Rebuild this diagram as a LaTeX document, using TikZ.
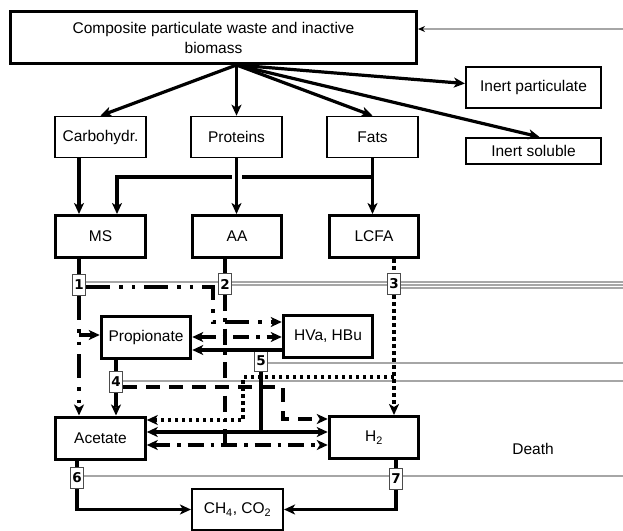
\documentclass[tikz,border=0pt]{standalone}
\usepackage{fontspec}
\setmainfont{Liberation Sans}
\newfontfamily\numfont{DejaVu Sans}
\usetikzlibrary{arrows.meta,positioning,calc,backgrounds}

\begin{document}
\begin{tikzpicture}[x=1pt, y=-1pt,
		font=\fontsize{15.5}{20}\selectfont,
		>={Stealth[length=11pt, width=10pt, inset=3pt]},
		block/.style={rectangle, draw, line width=3pt, minimum width=89.5pt, minimum height=42pt, inner sep=2pt, align=center},
		thinblock/.style={rectangle, draw, line width=1.6pt, minimum width=91.5pt, minimum height=41pt, inner sep=2pt, align=center},
		num/.style={rectangle, draw=black!70, fill=white, line width=1pt, minimum width=13.5pt, minimum height=21pt, inner sep=1pt, font=\numfont\bfseries\fontsize{13.5}{13.5}\selectfont},
		line/.style={draw, line width=3.2pt, ->},
		link/.style={draw, line width=3.2pt},
		death/.style={draw=black!35, line width=1.3pt},
		upsu/.style={line, dash pattern=on 24pt off 9pt on 3.5pt off 9pt on 3.5pt off 9pt},
		upaa/.style={line, dash pattern=on 16pt off 7pt on 3.5pt off 7pt},
		upfa/.style={line, line width=3.6pt, dash pattern=on 3.5pt off 3.5pt},
		uppro/.style={line, dash pattern=on 14pt off 9pt}]
		\useasboundingbox (0,0) rectangle (623,530);

		% Nodes
		\node [block, minimum width=406pt, minimum height=52pt] (comp) at (213.5,37.5) {Composite particulate waste and inactive\\biomass};
		\node [thinblock] (carb) at (100.5,137) {Carbohydr.};
		\node [thinblock] (prot) at (236.5,137) {Proteins};
		\node [thinblock] (fats) at (372.5,137) {Fats};
		\node [thinblock, minimum width=135.5pt] (xi) at (533.5,87.5) {Inert particulate};
		\node [thinblock, minimum width=135.5pt, minimum height=26.5pt] (si) at (533.5,151) {Inert soluble};
		\node [block] (ms) at (100.5,236.5) {MS};
		\node [block] (aa) at (237,236.5) {AA};
		\node [block] (lcfa) at (374,236.5) {LCFA};
		\node [block] (pro) at (146,337.5) {Propionate};
		\node [block] (vb) at (328,336.5) {HVa, HBu};
		\node [block] (ac) at (100.5,438) {Acetate};
		\node [block] (htwo) at (374,437.5) {H\textsubscript{2}};
		\node [thinblock] (ch) at (237.5,509.5) {CH\textsubscript{4}, CO\textsubscript{2}};
		\node (death) at (533,449) {Death};

		% Process numbers
		\node [num] (n1) at (79,285) {1};
		\node [num] (n2) at (225,284) {2};
		\node [num] (n3) at (394,284) {3};
		\node [num] (n4) at (116,382) {4};
		\node [num] (n5) at (261,360.5) {5};
		\node [num] (n6) at (77,478) {6};
		\node [num] (n7) at (396,479) {7};

		% Disintegration and hydrolysis
		\coordinate (apex) at (prot.north |- comp.south);
		\path [line] (apex) -- (carb.north);
		\path [line] (apex) -- (prot.north);
		\path [line] (apex) -- (fats.north);
		\path [line] (apex) -- ([yshift=4pt]xi.west);
		\path [line] (apex) -- ([xshift=6pt]si.north);
		\path [line] (carb.south -| n1) -- (ms.north -| n1);
		\path [line] (fats |- 0,177) -| ([xshift=16.5pt]ms.north);
		\path [line] (fats.south) -- (fats.south |- lcfa.north);
		\draw [white, line width=10pt] ($(prot.south)+(0,14)$) -- ($(prot.south)+(0,24)$);
		\path [line] (prot.south) -- (prot.south |- aa.north);

		% Uptake paths
		\path [link] (ms.south -| n1) -- (n1.north);
		\path [upsu] ([yshift=-2pt]n1.east) -| (213,322) -- (vb.west |- 0,322);
		\path [upsu] (n1.south) -- (ac.north -| n1);
		\path [upsu] (n1 |- 0,335) -- (pro.west |- 0,335);

		\path [link] (aa.south -| n2) -- (n2.north);
		\path [upaa, -] (n2.south) -- (n2 |- 0,445);
		\path [upaa, <->] (pro.east |- 0,337) -- (vb.west |- 0,337);
		\path [upaa, <->] (ac.east |- 0,445) -- (htwo.west |- 0,445);

		\path [upfa, -] (lcfa.south -| n3) -- (n3.north);
		\path [upfa] (n3.south) -- (htwo.north -| n3);
		\path [upfa] (n3 |- 0,377) -| (243,420) -- (ac.east |- 0,420);

		\path [link] (pro.south -| n4) -- (n4.north);
		\path [uppro] (n4.south) -- (ac.north -| n4);
		\path [uppro] ([yshift=-5pt]n4.east) -| (283,419) -- (htwo.west |- 0,419);

		\path [line] (vb.west |- 0,350) -- (pro.east |- 0,350);
		\path [link] (n5.south) -- (n5 |- 0,432);
		\path [line, <->] (ac.east |- 0,432) -- (htwo.west |- 0,432);

		\path [link] (ac.south -| n6) -- (n6.north);
		\path [line] (n6.south) |- (ch.west);
		\path [link] (htwo.south -| n7) -- (n7.north);
		\path [line] (n7.south) |- (ch.east);

		% Death lines
		\begin{scope}[on background layer]
			\coordinate (d0) at (623,29);
			\coordinate (d1) at (623,282);
			\coordinate (d2) at (623,285);
			\coordinate (d3) at (623,288);
			\coordinate (d5) at (623,363);
			\coordinate (d4) at (623,381);
			\coordinate (d6) at (623,476);
			\path [death, -{Stealth[length=7pt, width=6pt, black]}] (d0) -- (d0 -| comp.east);
			\path [death] (d1 -| n1.east) -- (d1);
			\path [death] (d2 -| n2.east) -- (d2);
			\path [death] (d3 -| n3.east) -- (d3);
			\path [death] (d5 -| n5.east) -- (d5);
			\path [death] (d4 -| n4.east) -- (d4);
			\path [death] (d6 -| n6.east) -- (d6);
		\end{scope}
	\end{tikzpicture}
\end{document}
